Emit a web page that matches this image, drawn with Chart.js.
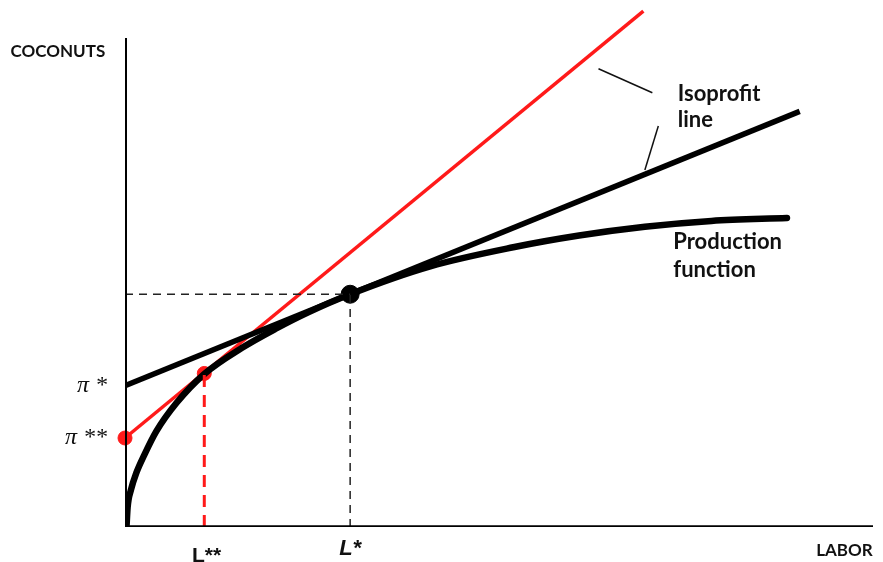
<!DOCTYPE html>
<html>
<head>
<meta charset="utf-8">
<script src="https://cdn.jsdelivr.net/npm/chart.js@4.4.1/dist/chart.umd.min.js"></script>
<style>
  body { margin: 0; background: #fff; }
  canvas { display: block; }
</style>
</head>
<body>
<canvas id="graficoCocos" width="883" height="562"></canvas>
<script>
// production function (labor -> coconuts)
var labor = [0.2, 0.35, 0.8, 1.5, 2.6, 4.2, 6.9, 10.6, 15.6, 20.1, 24.5, 30.1, 40.8, 51.9, 60.7, 69.5, 78.4, 88.5];
var coconuts = [0, 4.0, 7.6, 11.0, 14.8, 19.6, 25.4, 31.3, 36.6, 40.5, 43.9, 47.6, 53.3, 57.2, 59.6, 61.4, 62.6, 63.2];

// isoprofit line tangent at L*
var isoX = [0, 90.2];
var isoY = [28.9, 85.0];

// red isoprofit line tangent at L**
var redX = [0, 69.3];
var redY = [18.2, 105.5];

// optimum points
var lStar = 30.1, qStar = 47.6;
var lStar2 = 10.6, qStar2 = 31.4;
var piStar = 28.9, piStar2 = 18.2;

// leader lines for the "Isoprofit line" label
var leader1X = [63.3, 70.5], leader1Y = [93.7, 88.8];
var leader2X = [71.3, 69.5], leader2Y = [82.0, 73.0];

function pares(xs, ys) {
  return xs.map(function (x, i) { return { x: x, y: ys[i] }; });
}

var textos = [
  { txt: 'COCONUTS', x: -15.3, y: 97.2, font: 'bold 17px Lato', align: 'left', base: 'middle' },
  { txt: 'LABOR', x: 92.4, y: -4.8, font: 'bold 17px Lato', align: 'left', base: 'middle' },
  { txt: 'Isoprofit', x: 73.9, y: 88.6, font: 'bold 22px Lato', align: 'left', base: 'middle' },
  { txt: 'line', x: 73.9, y: 83.2, font: 'bold 22px Lato', align: 'left', base: 'middle' },
  { txt: 'Production', x: 73.3, y: 58.2, font: 'bold 22px Lato', align: 'left', base: 'middle' },
  { txt: 'function', x: 73.3, y: 52.6, font: 'bold 22px Lato', align: 'left', base: 'middle' },
  { txt: 'π *', x: -2.4, y: piStar, font: 'italic 24px "Liberation Serif"', align: 'right', base: 'middle' },
  { txt: 'π **', x: -2.4, y: piStar2, font: 'italic 24px "Liberation Serif"', align: 'right', base: 'middle' },
  { txt: 'L*', x: lStar, y: -2.2, font: 'italic bold 22px "Liberation Sans"', align: 'center', base: 'top' },
  { txt: 'L**', x: lStar2 + 0.3, y: -3.8, font: 'bold 21px "Liberation Sans"', align: 'center', base: 'top' }
];

var rotulos = {
  id: 'rotulos',
  afterDatasetsDraw: function (chart) {
    var c = chart.ctx;
    var sx = chart.scales.x, sy = chart.scales.y;
    c.save();
    c.fillStyle = '#111';
    textos.forEach(function (t) {
      c.font = t.font;
      c.textAlign = t.align;
      c.textBaseline = t.base;
      c.fillText(t.txt, sx.getPixelForValue(t.x), sy.getPixelForValue(t.y));
    });
    c.restore();
  }
};

var ctx = document.getElementById('graficoCocos');
var grafico = new Chart(ctx, {
  type: 'scatter',
  data: {
    datasets: [
      // axes
      { data: pares([0, 0], [0, 100]), showLine: true, borderColor: '#000', borderWidth: 4, pointRadius: 0 },
      { data: pares([0, 100], [0, 0]), showLine: true, borderColor: '#000', borderWidth: 3.5, pointRadius: 0 },
      // dashed guides at L*
      { data: pares([0, lStar], [qStar, qStar]), showLine: true, borderColor: '#222', borderWidth: 1.5, borderDash: [8, 6], pointRadius: 0 },
      { data: pares([lStar, lStar], [0, qStar]), showLine: true, borderColor: '#222', borderWidth: 1.5, borderDash: [8, 6], pointRadius: 0 },
      // dashed red guide at L**
      { data: pares([lStar2, lStar2], [0, qStar2]), showLine: true, borderColor: '#ff1a1a', borderWidth: 3, borderDash: [12, 8], pointRadius: 0 },
      // leaders
      { data: pares(leader1X, leader1Y), showLine: true, borderColor: '#111', borderWidth: 1.5, pointRadius: 0 },
      { data: pares(leader2X, leader2Y), showLine: true, borderColor: '#111', borderWidth: 1.5, pointRadius: 0 },
      // isoprofit line
      { data: pares(isoX, isoY), showLine: true, borderColor: '#000', borderWidth: 5.5, pointRadius: 0 },
      // production function
      { data: pares(labor, coconuts), showLine: true, borderColor: '#000', borderWidth: 6.5, pointRadius: 0, cubicInterpolationMode: 'monotone', borderCapStyle: 'round' },
      // red line
      { data: pares(redX, redY), showLine: true, borderColor: '#ff1a1a', borderWidth: 3.5, pointRadius: 0, clip: false },
      // points
      { data: [{ x: lStar, y: qStar }], pointRadius: 9, backgroundColor: '#000', borderColor: '#000' },
      { data: [{ x: lStar2, y: qStar2 }, { x: 0, y: piStar2 }], pointRadius: 7, backgroundColor: '#ff1a1a', borderColor: '#ff1a1a', clip: false }
    ]
  },
  options: {
    responsive: false,
    animation: false,
    layout: { padding: { left: 125, right: 3, top: 38, bottom: 35 } },
    scales: {
      x: { type: 'linear', min: 0, max: 100, display: false },
      y: { type: 'linear', min: 0, max: 100, display: false }
    },
    plugins: {
      legend: { display: false },
      tooltip: { enabled: false }
    }
  },
  plugins: [rotulos]
});
</script>
</body>
</html>
